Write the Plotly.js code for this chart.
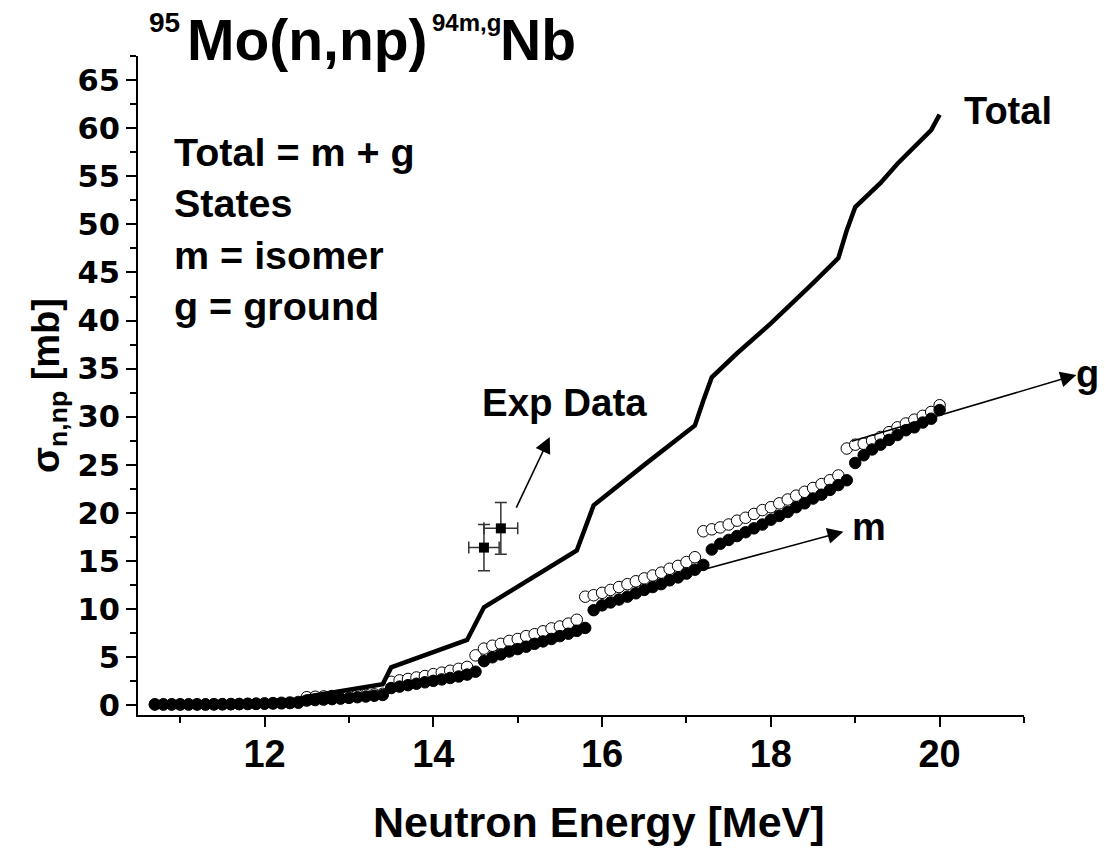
<!DOCTYPE html>
<html>
<head>
<meta charset="utf-8">
<script src="https://cdn.plot.ly/plotly-3.0.1.min.js"></script>
<style>html,body{margin:0;padding:0;background:#fff;}#chart{width:1105px;height:851px;}</style>
</head>
<body>
<div id="chart"></div>
<script>
// Neutron energy grid [MeV] for the model curves
const energy = [10.7,10.8,10.9,11.0,11.1,11.2,11.3,11.4,11.5,11.6,11.7,11.8,11.9,12.0,12.1,12.2,12.3,12.4,
  12.5,12.6,12.7,12.8,12.9,13.0,13.1,13.2,13.3,13.4,
  13.5,13.6,13.7,13.8,13.9,14.0,14.1,14.2,14.3,14.4,
  14.5,14.6,14.7,14.8,14.9,15.0,15.1,15.2,15.3,15.4,15.5,15.6,15.7,
  15.8,15.9,16.0,16.1,16.2,16.3,16.4,16.5,16.6,16.7,16.8,16.9,17.0,17.1,
  17.2,17.3,17.4,17.5,17.6,17.7,17.8,17.9,18.0,18.1,18.2,18.3,18.4,18.5,18.6,18.7,18.8,
  18.9,19.0,19.1,19.2,19.3,19.4,19.5,19.6,19.7,19.8,19.9,20.0];

// ground state (open circles) [mb]
const sigmaG = [0.1,0.1,0.1,0.1,0.1,0.1,0.1,0.12,0.13,0.14,0.15,0.17,0.19,0.21,0.24,0.27,0.3,0.35,
  0.85,0.9,0.93,0.97,1.0,1.03,1.07,1.1,1.15,1.2,
  2.45,2.6,2.75,2.9,3.05,3.25,3.4,3.6,3.8,4.0,
  5.2,5.9,6.2,6.4,6.7,6.9,7.2,7.4,7.7,8.0,8.2,8.5,8.9,
  11.3,11.45,11.7,12.0,12.3,12.6,12.9,13.2,13.5,13.8,14.2,14.5,14.9,15.4,
  18.1,18.3,18.5,18.8,19.2,19.5,19.9,20.3,20.6,21.0,21.4,21.8,22.2,22.6,23.0,23.4,23.9,
  26.7,27.1,27.2,27.5,27.9,28.4,28.9,29.3,29.7,30.1,30.5,31.2];

// isomer state (filled circles) [mb]
const sigmaM = [0.1,0.1,0.1,0.1,0.1,0.1,0.1,0.1,0.11,0.12,0.13,0.14,0.15,0.17,0.19,0.21,0.24,0.27,
  0.5,0.55,0.6,0.65,0.7,0.78,0.85,0.92,1.0,1.08,
  1.8,1.95,2.1,2.25,2.4,2.55,2.7,2.85,3.0,3.2,3.5,
  4.6,5.0,5.3,5.6,5.85,6.1,6.4,6.65,6.9,7.2,7.45,7.75,8.05,
  9.9,10.4,10.7,11.0,11.3,11.65,12.0,12.3,12.6,13.0,13.3,13.7,14.1,14.6,
  16.2,16.8,17.2,17.6,18.0,18.4,18.8,19.3,19.7,20.1,20.6,21.0,21.5,21.9,22.4,22.9,23.4,
  25.2,26.0,26.6,27.1,27.6,28.1,28.6,28.9,29.4,29.8,30.7];

// Total curve
const totalE = [10.7,12.0,12.4,12.5,13.4,13.5,14.4,14.5,14.6,15.7,15.8,15.9,16.5,17.1,17.2,17.3,17.6,18.0,18.5,18.8,18.9,19.0,19.3,19.5,19.9,20.0];
const totalSigma = [0.2,0.4,0.6,0.9,2.2,3.95,6.8,8.5,10.2,16.1,18.5,20.8,25.0,29.1,31.7,34.1,36.6,39.7,43.9,46.5,49.4,51.8,54.3,56.3,59.8,61.4];

// Experimental data
const expE = [14.6, 14.8];
const expSigma = [16.4, 18.4];
const expDE = [0.18, 0.2];
const expDSigma = [2.4, 2.7];

// Axis ticks
const xTicks = [12, 14, 16, 18, 20];
const yTicks = [0,5,10,15,20,25,30,35,40,45,50,55,60,65];

const FONT = '"Liberation Sans", Arial, sans-serif';

const traces = [
  {x: energy, y: sigmaG, type: 'scatter', mode: 'markers', name: 'g',
   marker: {symbol: 'circle', size: 11.5, color: '#ffffff', line: {color: '#000', width: 1}}, cliponaxis: false},
  {x: energy, y: sigmaM, type: 'scatter', mode: 'markers', name: 'm',
   marker: {symbol: 'circle', size: 11.5, color: '#000', line: {color: '#000', width: 1}}, cliponaxis: false},
  {x: totalE, y: totalSigma, type: 'scatter', mode: 'lines', name: 'Total',
   line: {color: '#000', width: 4.5}},
  {x: expE, y: expSigma, type: 'scatter', mode: 'markers', name: 'Exp',
   marker: {symbol: 'square', size: 10, color: '#000'},
   error_x: {type: 'data', array: expDE, visible: true, color: '#333', thickness: 1.5, width: 6},
   error_y: {type: 'data', array: expDSigma, visible: true, color: '#333', thickness: 1.5, width: 6}}
];

function px2x(px){ return (px - 138) / 886; }
function py2y(py){ return (715 - py) / 659; }

const ptxt = (text, px, py, size, xanchor, extra) => Object.assign({
  text: text, x: px2x(px), y: py2y(py), xref: 'paper', yref: 'paper', showarrow: false,
  xanchor: xanchor || 'left', yanchor: 'middle',
  font: {family: FONT, size: size, color: '#000', weight: 'bold'}
}, extra || {});

const txt = (text, x, y, size, xanchor, extra) => Object.assign({
  text: text, x: x, y: y, xref: 'x', yref: 'y', showarrow: false,
  xanchor: xanchor || 'left', yanchor: 'middle',
  font: {family: FONT, size: size, color: '#000', weight: 'bold'}
}, extra || {});

const arrow = (hx, hy, tx, ty) => ({
  x: hx, y: hy, ax: tx, ay: ty, xref: 'x', yref: 'y', axref: 'x', ayref: 'y',
  text: '', showarrow: true, arrowhead: 2, arrowsize: 2, arrowwidth: 1.6, arrowcolor: '#000', standoff: 0
});

const annotations = [
  // title pieces
  ptxt('95', 147, 22, 28),
  ptxt('Mo(n,np)', 185, 40, 57),
  ptxt('94m,g', 430, 22, 24),
  ptxt('Nb', 498, 40, 57),
  // x axis title
  ptxt('Neutron Energy [MeV]', 599, 822, 43, 'center'),
  // text labels
  txt('Total = m + g<br>States<br>m = isomer<br>g = ground', 10.9, 49.5, 39.5, 'left', {align: 'left'}),
  txt('Total', 20.26, 61.8, 38),
  txt('Exp Data', 14.55, 31.5, 38.5),
  txt('m', 18.94, 18.5, 38),
  ptxt('g', 1074, 374, 38),
  // arrows
  arrow(15.38, 27.9, 14.975, 20.4),
  arrow(18.86, 18.06, 17.12, 13.92),
  arrow(21.62, 34.35, 18.94, 27.41)
];

const layout = {
  width: 1105, height: 851,
  margin: {l: 138, r: 81, t: 56, b: 136},
  paper_bgcolor: '#fff', plot_bgcolor: '#fff',
  showlegend: false,
  font: {family: FONT, color: '#000'},
  xaxis: {
    range: [10.5, 21], tickvals: xTicks, ticktext: xTicks.map(String),
    showgrid: false, zeroline: false, showline: true, linecolor: '#000', linewidth: 2,
    ticks: 'outside', ticklen: 10, tickwidth: 2, tickcolor: '#000',
    minor: {ticks: 'outside', ticklen: 6, tickwidth: 2, tickcolor: '#000', dtick: 1, tick0: 11, showgrid: false},
    tickfont: {family: FONT, size: 38, color: '#000', weight: 'bold'},
    ticklabelstandoff: -6
  },
  yaxis: {
    range: [-1, 67.5], tickvals: yTicks, ticktext: yTicks.map(String),
    showgrid: false, zeroline: false, showline: true, linecolor: '#000', linewidth: 2,
    ticks: 'outside', ticklen: 10, tickwidth: 2, tickcolor: '#000',
    minor: {ticks: 'outside', ticklen: 6, tickwidth: 2, tickcolor: '#000', dtick: 2.5, tick0: 0, showgrid: false},
    tickfont: {family: '"DejaVu Sans", sans-serif', size: 30.5, color: '#000', weight: 'bold'},
    title: {text: 'σ<sub>n,np</sub> [mb]', standoff: 6, font: {family: FONT, size: 38, color: '#000', weight: 'bold'}}
  },
  annotations: annotations
};

Plotly.newPlot('chart', traces, layout, {displayModeBar: false, staticPlot: true});
</script>
</body>
</html>
